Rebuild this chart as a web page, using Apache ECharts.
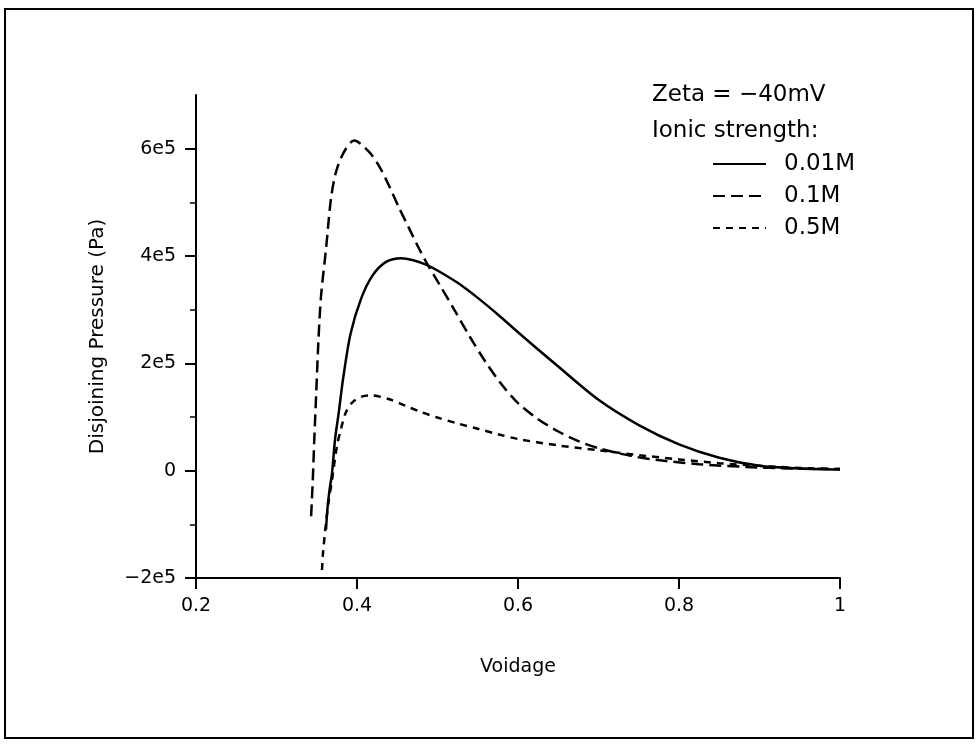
<!DOCTYPE html>
<html>
<head>
<meta charset="utf-8">
<script src="https://cdn.jsdelivr.net/npm/echarts@6/dist/echarts.min.js"></script>
<style>html,body{margin:0;padding:0;background:#fff}#c{width:977px;height:745px}</style>
</head>
<body>
<div id="c"></div>
<script>
// Data (voidage, disjoining pressure in Pa)
const seriesNames = ['0.01M', '0.1M', '0.5M'];
const xTicks = [0.2, 0.4, 0.6, 0.8, 1];
const yTicks = [-200000, 0, 200000, 400000, 600000];
const yMinorTicks = [-100000, 100000, 300000, 500000];

const void001 = [0.3615, 0.3635, 0.366, 0.369, 0.3727, 0.3775, 0.3826, 0.392, 0.405, 0.419, 0.436, 0.455, 0.47, 0.487, 0.50, 0.525, 0.55, 0.575, 0.60, 0.65, 0.70, 0.75, 0.80, 0.85, 0.90, 0.95, 1.0];
const pres001 = [-110000, -67000, -35000, -4000, 58000, 110000, 170000, 255000, 320000, 363000, 389000, 396000, 392000, 383000, 373000, 350000, 322000, 291000, 258000, 194000, 132000, 85000, 49000, 24000, 9000, 4000, 2000];

const void01 = [0.343, 0.345, 0.347, 0.3495, 0.352, 0.3553, 0.3615, 0.3677, 0.374, 0.3839, 0.3963, 0.415, 0.4273, 0.4398, 0.4522, 0.4646, 0.477, 0.487, 0.502, 0.52, 0.54, 0.56, 0.58, 0.60, 0.625, 0.65, 0.675, 0.70, 0.742, 0.784, 0.825, 0.883, 0.94, 1.0];
const pres01 = [-85000, -20000, 60000, 150000, 240000, 325000, 413000, 507000, 557000, 594000, 615000, 594000, 568000, 531000, 490000, 452000, 414000, 386000, 348000, 302000, 250000, 202000, 160000, 126000, 96000, 73000, 55000, 42000, 27000, 18000, 12000, 7000, 4000, 3000];

const void05 = [0.3565, 0.3578, 0.3615, 0.365, 0.369, 0.375, 0.380, 0.386, 0.394, 0.406, 0.4186, 0.44, 0.46, 0.48, 0.50, 0.525, 0.55, 0.575, 0.60, 0.65, 0.70, 0.75, 0.80, 0.85, 0.90, 0.95, 1.0];
const pres05 = [-185000, -153000, -97000, -55000, -17000, 45000, 77000, 108000, 127000, 138000, 140000, 133000, 121000, 109000, 99000, 88000, 78000, 68000, 59000, 47000, 38000, 29000, 21000, 14000, 9000, 5000, 3000];

const pairs = (xs, ys) => xs.map((x, i) => [x, ys[i]]);
const FONT = '"DejaVu Sans", Verdana, sans-serif';

const fmtY = v => {
  if (Math.abs(v) < 1) return '0';
  const n = Math.round(Math.abs(v) / 100000);
  return (v < 0 ? '\u2212' : '') + n + 'e5';
};

const chart = echarts.init(document.getElementById('c'), null, {renderer: 'canvas'});
chart.setOption({
  animation: false,
  backgroundColor: '#fff',
  grid: {left: 196, right: 137, top: 95, bottom: 167, containLabel: false},
  xAxis: {
    type: 'value', min: 0.2, max: 1, interval: 0.2,
    name: 'Voidage', nameLocation: 'middle', nameGap: 80,
    nameTextStyle: {fontFamily: FONT, fontSize: 19, color: '#000'},
    axisLine: {show: true, onZero: false, lineStyle: {color: '#000', width: 2}},
    axisTick: {show: true, inside: false, length: 11, lineStyle: {color: '#000', width: 2}},
    axisLabel: {fontFamily: FONT, fontSize: 19, color: '#000', margin: 19,
      formatter: v => String(+v.toFixed(1))},
    splitLine: {show: false}
  },
  yAxis: [{
    type: 'value', min: -200000, max: 700000,
    name: 'Disjoining Pressure (Pa)', nameLocation: 'middle', nameGap: 88, nameRotate: 90,
    nameTextStyle: {fontFamily: FONT, fontSize: 20, color: '#000'},
    axisLine: {show: true, onZero: false, lineStyle: {color: '#000', width: 2}},
    axisTick: {show: true, length: 11, customValues: yTicks, lineStyle: {color: '#000', width: 2}},
    axisLabel: {fontFamily: FONT, fontSize: 19, color: '#000', margin: 20, customValues: yTicks, formatter: fmtY},
    splitLine: {show: false}
  }, {
    type: 'value', min: -200000, max: 700000, position: 'left',
    axisLine: {show: false},
    axisTick: {show: true, length: 6, customValues: yMinorTicks, lineStyle: {color: '#000', width: 1.5}},
    axisLabel: {show: false},
    splitLine: {show: false}
  }],
  legend: {
    show: true, orient: 'vertical', left: 712, top: 152, padding: 0,
    itemWidth: 53, itemHeight: 14, itemGap: 8,
    data: seriesNames,
    itemStyle: {opacity: 0, color: 'rgba(0,0,0,0)', borderWidth: 0},
    textStyle: {fontFamily: FONT, fontSize: 23, lineHeight: 24, color: '#000', padding: [0, 0, 0, 13]}
  },
  graphic: [
    {type: 'rect', shape: {x: 5, y: 9, width: 968, height: 729}, style: {fill: 'none', stroke: '#000', lineWidth: 2}, silent: true},
    {type: 'text', x: 652, y: 95, style: {text: 'Zeta = \u221240mV', font: '23px ' + FONT, fill: '#000', textAlign: 'left', textVerticalAlign: 'middle', verticalAlign: 'middle'}},
    {type: 'text', x: 652, y: 131, style: {text: 'Ionic strength:', font: '23px ' + FONT, fill: '#000', textAlign: 'left', textVerticalAlign: 'middle', verticalAlign: 'middle'}}
  ],
  series: [
    {name: seriesNames[0], type: 'line', data: pairs(void001, pres001), smooth: 0.3, symbol: 'none', showSymbol: false,
      lineStyle: {color: '#000', width: 2.5, type: 'solid'}, itemStyle: {color: '#000'}},
    {name: seriesNames[1], type: 'line', data: pairs(void01, pres01), smooth: 0.3, symbol: 'none', showSymbol: false,
      lineStyle: {color: '#000', width: 2.5, type: [12, 6]}, itemStyle: {color: '#000'}},
    {name: seriesNames[2], type: 'line', data: pairs(void05, pres05), smooth: 0.3, symbol: 'none', showSymbol: false,
      lineStyle: {color: '#000', width: 2.5, type: [7, 6]}, itemStyle: {color: '#000'}}
  ]
});
</script>
</body>
</html>
